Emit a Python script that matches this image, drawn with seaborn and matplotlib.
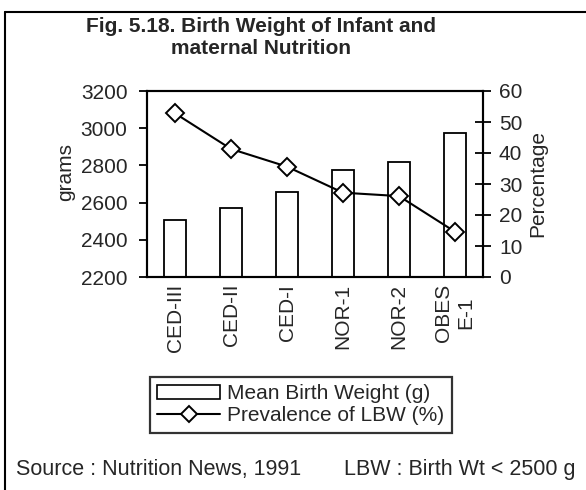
import numpy as np
import pandas as pd
import matplotlib
matplotlib.use("Agg")
import matplotlib.pyplot as plt
import seaborn as sns
from matplotlib.patches import Patch
from matplotlib.lines import Line2D

categories = ["CED-III", "CED-II", "CED-I", "NOR-1", "NOR-2", "OBESE-1"]
tick_labels = ["CED-III", "CED-II", "CED-I", "NOR-1", "NOR-2", "OBES\nE-1"]
mean_birth_weight = [2505, 2570, 2655, 2775, 2820, 2975]
prevalence_lbw = [52.8, 41.3, 35.6, 27.2, 26.1, 14.6]
left_ticks = [2200, 2400, 2600, 2800, 3000, 3200]
right_ticks = [0, 10, 20, 30, 40, 50, 60]

sns.set_style("white")
plt.rcParams["font.family"] = ["Liberation Sans", "DejaVu Sans"]

FS = 15
W, H = 586, 490
fig = plt.figure(figsize=(W / 100, H / 100), dpi=100)
L, R, T, B = 147, 483, 91, 277
ax = fig.add_axes([L / W, 1 - B / H, (R - L) / W, (B - T) / H])

df = pd.DataFrame({"cat": categories, "w": mean_birth_weight, "p": prevalence_lbw})
sns.barplot(data=df, x="cat", y="w", color="white", edgecolor="black",
            linewidth=1.3, width=0.4, saturation=1, ax=ax)
ax.set_ylim(2200, 3200)
ax.set_xlim(-0.5, 5.5)
ax.set_yticks(left_ticks)
ax.set_xticks(range(len(categories)))
ax.set_xticklabels(tick_labels, rotation=90, fontsize=FS)
ax.set_xticks(np.arange(-0.5, 6, 1.0), minor=True)
ax.tick_params(axis="x", which="major", length=0, pad=5)
ax.tick_params(axis="x", which="minor", length=11, direction="inout", width=1.3, color="black")
ax.tick_params(axis="y", which="major", length=6, direction="out", width=1.3,
               labelsize=FS, pad=8, color="black", left=True)
ax.set_xlabel("")
ax.set_ylabel("")
for s in ax.spines.values():
    s.set_color("black")
    s.set_linewidth(1.5)

ax2 = ax.twinx()
sns.lineplot(x=np.arange(len(categories)), y=prevalence_lbw, ax=ax2, color="black",
             linewidth=1.5, marker="D", markersize=9, markerfacecolor="white",
             markeredgecolor="black", markeredgewidth=1.4)
ax2.set_ylim(0, 60)
ax2.set_yticks(right_ticks)
ax2.tick_params(axis="y", which="major", length=11, direction="inout", width=1.3,
                labelsize=FS, pad=6, color="black", right=True)
ax2.set_ylabel("")
ax2.set_xlim(-0.5, 5.5)
for s in ax2.spines.values():
    s.set_color("black")
    s.set_linewidth(1.5)

fig.text(66 / W, 1 - 172 / H, "grams", rotation=90, fontsize=FS, ha="center", va="center")
fig.text(538 / W, 1 - 183 / H, "Percentage", rotation=90, fontsize=FS, ha="center", va="center")

fig.text(261 / W, 1 - 26 / H, "Fig. 5.18. Birth Weight of Infant and", fontsize=15,
         fontweight="bold", ha="center", va="center")
fig.text(261 / W, 1 - 49 / H, "maternal Nutrition", fontsize=15,
         fontweight="bold", ha="center", va="center")

handles = [Patch(facecolor="white", edgecolor="black", linewidth=1.2),
           Line2D([], [], color="black", linewidth=1.5, marker="D", markersize=8,
                  markerfacecolor="white", markeredgecolor="black", markeredgewidth=1.4)]
leg = fig.legend(handles, ["Mean Birth Weight (g)", "Prevalence of LBW (%)"],
                 loc="upper left", bbox_to_anchor=(150 / W, 1 - 377 / H),
                 fontsize=FS, frameon=True, fancybox=False, edgecolor="black",
                 handlelength=3.0, handleheight=0.6, handletextpad=0.35,
                 borderpad=0.35, labelspacing=0.15, borderaxespad=0)
leg.get_frame().set_linewidth(1.6)

fig.text(16 / W, 1 - 469 / H, "Source : Nutrition News, 1991", fontsize=15.5, ha="left", va="center")
fig.text(575 / W, 1 - 469 / H, "LBW : Birth Wt < 2500 g", fontsize=15.5, ha="right", va="center")

fig.add_artist(Line2D([5 / W, 5 / W], [0, 1 - 12 / H], transform=fig.transFigure,
                      color="black", linewidth=1.5))
fig.add_artist(Line2D([5 / W, 1], [1 - 12 / H, 1 - 12 / H], transform=fig.transFigure,
                      color="black", linewidth=1.5))

fig.savefig("out.png", dpi=100)
